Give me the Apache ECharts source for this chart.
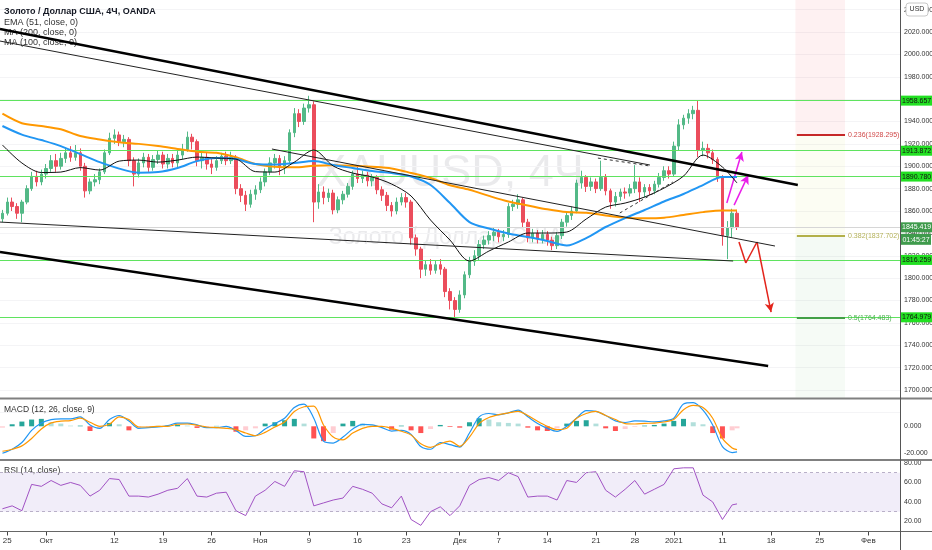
<!DOCTYPE html>
<html><head><meta charset="utf-8">
<script src="https://cdn.jsdelivr.net/npm/echarts@6/dist/echarts.min.js"></script>
<style>html,body{margin:0;padding:0;background:#fff}#c{width:932px;height:550px}</style>
</head><body><div id="c"></div><script>
// ---------- data ----------
const SLOTS = 185;          // half-trading-day slots across the time axis
const LAST = 151;           // last slot with a candle
// candles: [open, close, low, high], one per half trading day
const candles = [
[1853,1858,1850,1861],[1858,1868,1856,1872],[1868,1864,1860,1872],[1864,1858,1853,1867],[1858,1868,1850,1870],
[1868,1880,1866,1883],[1880,1891,1878,1895],[1891,1886,1882,1896],[1886,1893,1883,1897],[1893,1898,1889,1902],
[1898,1905,1895,1910],[1905,1900,1895,1911],[1900,1907,1897,1912],[1907,1912,1903,1916],[1912,1908,1904,1918],
[1908,1912,1905,1919],[1912,1900,1896,1916],[1900,1878,1872,1903],[1878,1886,1875,1889],[1886,1888,1882,1893],
[1888,1895,1884,1898],[1895,1912,1893,1915],[1912,1925,1910,1930],[1925,1928,1920,1933],[1928,1922,1918,1931],
[1922,1924,1917,1928],[1924,1905,1900,1926],[1905,1893,1882,1908],[1893,1903,1890,1907],[1903,1908,1899,1912],
[1908,1899,1895,1911],[1899,1906,1896,1910],[1906,1910,1902,1914],[1910,1902,1898,1913],[1902,1907,1898,1911],
[1907,1903,1899,1911],[1903,1910,1899,1914],[1910,1915,1906,1920],[1915,1926,1913,1931],[1926,1922,1915,1929],
[1922,1905,1900,1924],[1905,1908,1898,1913],[1908,1902,1897,1912],[1902,1899,1893,1907],[1899,1905,1896,1909],
[1905,1909,1902,1912],[1909,1905,1901,1913],[1905,1908,1902,1913],[1908,1880,1875,1910],[1880,1874,1868,1884],
[1874,1866,1860,1878],[1866,1875,1863,1879],[1875,1879,1870,1883],[1879,1886,1876,1890],[1886,1895,1882,1898],
[1895,1903,1892,1908],[1903,1907,1898,1911],[1907,1900,1892,1910],[1900,1905,1893,1909],[1905,1930,1903,1933],
[1930,1947,1926,1952],[1947,1940,1935,1951],[1940,1952,1937,1956],[1952,1955,1948,1963],[1955,1868,1850,1958],
[1868,1877,1862,1884],[1877,1872,1866,1882],[1872,1876,1868,1880],[1876,1861,1857,1879],[1861,1870,1858,1873],
[1870,1875,1866,1878],[1875,1882,1872,1885],[1882,1893,1879,1896],[1893,1889,1885,1900],[1889,1892,1885,1896],
[1892,1887,1882,1895],[1887,1890,1882,1893],[1890,1879,1875,1892],[1879,1874,1869,1882],[1874,1865,1860,1877],
[1865,1860,1855,1868],[1860,1868,1857,1872],[1868,1872,1865,1876],[1872,1868,1863,1876],[1868,1836,1830,1870],
[1836,1826,1820,1839],[1826,1808,1800,1828],[1808,1812,1802,1816],[1812,1807,1803,1817],[1807,1812,1804,1816],
[1812,1808,1803,1817],[1808,1788,1783,1810],[1788,1780,1772,1791],[1780,1772,1764,1783],[1772,1785,1769,1789],
[1785,1803,1782,1806],[1803,1815,1800,1819],[1815,1820,1811,1825],[1820,1830,1816,1834],[1830,1834,1826,1838],
[1834,1838,1830,1842],[1838,1841,1833,1845],[1841,1837,1832,1844],[1837,1839,1833,1843],[1839,1864,1836,1867],
[1864,1866,1860,1870],[1866,1870,1862,1875],[1870,1850,1845,1872],[1850,1836,1832,1853],[1836,1840,1832,1844],
[1840,1835,1831,1843],[1835,1839,1831,1843],[1839,1834,1829,1842],[1834,1829,1825,1837],[1829,1838,1826,1841],
[1838,1850,1835,1853],[1850,1856,1846,1860],[1856,1860,1852,1864],[1860,1885,1858,1888],[1885,1890,1880,1896],
[1890,1882,1877,1892],[1882,1886,1878,1890],[1886,1880,1876,1889],[1880,1890,1878,1905],[1890,1878,1874,1893],
[1878,1868,1862,1880],[1868,1873,1864,1877],[1873,1877,1869,1880],[1877,1876,1871,1881],[1876,1880,1873,1884],
[1880,1886,1876,1901],[1886,1877,1868,1890],[1877,1881,1872,1884],[1881,1878,1874,1884],[1878,1884,1875,1887],
[1884,1890,1881,1894],[1890,1896,1887,1900],[1896,1893,1889,1900],[1893,1918,1891,1922],[1918,1937,1914,1942],
[1937,1943,1933,1946],[1943,1947,1938,1951],[1947,1950,1942,1954],[1950,1914,1908,1959],[1914,1916,1909,1922],
[1916,1912,1907,1920],[1912,1906,1902,1915],[1906,1890,1886,1908],[1890,1838,1829,1892],[1838,1845,1817,1851],
[1845,1858,1836,1862],[1858,1845.419,1843,1861]
];
// date tick labels: [slot, text]
const xTicks = [[1,'25'],[9,'Окт'],[23,'12'],[33,'19'],[43,'26'],[53,'Ноя'],[63,'9'],[73,'16'],[83,'23'],
  [94,'Дек'],[102,'7'],[112,'14'],[122,'21'],[130,'28'],[138,'2021'],[148,'11'],[158,'18'],[168,'25'],[178,'Фев']];
// moving averages sampled every 4 slots (last value at the last candle)
const maStep = 4;
const maOrange = [1947,1938.5,1936,1933,1927,1924,1921.5,1920,1918,1915.5,1913,1912,1908,1902,1899.5,1899,1900.5,1901,1900.5,1899.5,1898,1894,1889.5,1883,1879,1873.5,1868.5,1865,1861.5,1859,1858.5,1856,1854,1853.5,1854,1856.5,1859,1860.5,1860.5];
const maBlue = [1936,1928.3,1923.4,1918,1910.9,1903.7,1897.9,1894.3,1894.8,1898.4,1904.6,1907.3,1906.4,1902,1901.5,1902.9,1904.6,1901.1,1898.4,1895.7,1893.9,1890.8,1883.2,1867.1,1850.1,1844.3,1839.8,1836.7,1833.2,1829.1,1835.8,1845.7,1853.7,1860.9,1868.5,1875.2,1883.2,1890.4,1890.4];
const emaBlack = [1919,1902.9,1894.4,1894.8,1898.8,1896.6,1904.6,1905.5,1903.7,1905.5,1908.2,1907.3,1906.4,1895.2,1894.8,1903.7,1914.5,1900.2,1893.9,1890.4,1884.1,1873.4,1851.9,1834,1815.3,1824.2,1832.3,1840.3,1840.3,1841.2,1852.8,1863.5,1867.1,1872.5,1880.5,1891.2,1910,1899.3,1885];
// indicators sampled every 2 slots
const indStep = 2;
const macdLine = [-20,-17,-12,-3,2.5,5,5.5,5.5,7,1,-1.5,5,8,4,-1.5,-1,-0.5,0.5,2.4,2.4,1,-1,-1,0,-3,-7.5,-7,-2,2,6,14,16.5,6,-11,-12.4,-8,-2,1.5,1,-1,-3.5,-3,-6,-15,-17,-12,-13.6,-15.4,-5,7,9.5,8.5,10,12,7,2,-1.5,-3.7,0,6,11.6,11,8,4,2.8,4,3.8,3.3,4,6,16.5,17.5,12,1,-15,-19.5,-19];
const macdSignal = [-18.5,-17,-14.5,-9,-2,2.5,3.8,4.2,6,3,0,1.5,7,5,-0.5,-0.5,0,0,1.5,1.7,0.8,-0.5,-1,-1.5,-2.5,-5,-7,-4.5,-0.5,3.2,11,14.5,15,1,-8,-10,-5,-1.5,0,0,-1.5,-3.7,-6.5,-13,-15.6,-13,-11,-14.8,-8,2,6.5,8.6,9.9,11.1,8,3.7,0,-2.5,-1.5,6,9.5,11.1,8,5,2,1.7,2.2,2.4,3.2,5,12.3,15.5,14,6,-9,-16,-17.3];
const macdHist = [-1,1.5,3.5,5,5.5,3,2,0.5,0.5,-3.5,-1.5,2.5,1.5,-3,-1,-0.5,0.3,0.5,1,0.5,-1.2,-0.5,0.3,0.2,-4,-3,-1.5,2,3,4.5,5.5,2,-9,-11,-5,2,4,2,0.5,-0.5,-2.5,0.5,-3,-5,-2,1,-0.5,-1,3,6,5,3,2.5,2,-1,-3,-3.5,-1.5,2,4,4.5,2,-1.5,-3.5,-2,-0.5,0.5,1,2,4,5.5,3,1.5,-5,-9,-3,-1.5];
const rsi = [33,36,31,58,56,62,57,60,57,46,52,64,63,46,46,45,48,52,54,64,46,45,49,50,31,26,46,52,61,56,72,71,36,39,42,44,56,53,49,38,34,46,22,16,30,35,26,36,57,63,65,62,70,66,45,46,46,42,62,60,70,71,52,45,53,62,48,53,58,74,75,75,47,40,22,37,38];
// horizontal levels and annotations (slot, price)
const greenLevels = [1958.657, 1913.872, 1890.780, 1816.259, 1764.979];
const lastPrice = 1845.419;
const countdown = '01:45:27';
const fibLevels = [['0.236', 1928.295], ['0.382', 1837.702], ['0.5', 1764.483]];
const fibSpan = [163.3, 173.2];
const fibZones = [[2048.6, 1928.295], [1928.295, 1837.702], [1837.702, 1764.483], [1764.483, 1692.9]];
const trendThick = [[[-0.5, 2022.6], [163.5, 1883.2]], [[-0.5, 1823.3], [157.4, 1721.4]]];
const trendThin = [[[-0.5, 2011.9], [133.1, 1901.1]], [[55.4, 1915.4], [158.8, 1828.7]], [[-0.5, 1850.1], [150.2, 1815.3]]];
const trendDashed = [[[122.4, 1907.3], [133.1, 1900.2]], [[126.9, 1858.2], [137.8, 1885.9]]];
const upArrows = [[[148.9, 1867.1], [152.0, 1912.7]], [[150.4, 1865.3], [153.3, 1892.1]]];
const downPath = [[151.4, 1832.3], [152.8, 1813.5], [155.1, 1832.3], [158.0, 1769.7]];

// ---------- chart ----------
const SANS = "'Liberation Sans',Arial,sans-serif";
const cats = Array.from({length: SLOTS}, (_, i) => String(i));
const tickMap = new Map(xTicks);
const stepData = (arr, step) => arr.map((v, i) => [Math.min(i * step, LAST), v]);
const GREEN_UP = '#53b987', RED_DN = '#eb4d5c';

const histData = macdHist.map((v, i) => {
  const prev = i > 0 ? macdHist[i - 1] : v;
  let c;
  if (v >= 0) c = v >= prev ? '#26a69a' : '#b2dfdb';
  else c = v < prev ? '#ff5252' : '#ffcdd2';
  return {value: [Math.min(i * indStep, LAST), v], itemStyle: {color: c}};
});

const lineSeries = (pts, color, width, type, z) => ({
  type: 'line', xAxisIndex: 1, yAxisIndex: 0, data: pts, symbol: 'none', silent: true,
  lineStyle: {color, width, type}, z: z || 4, animation: false
});

const fibColors = ['#c62828', '#b3b04a', '#43a047'];
const fibTextColors = ['#d04848', '#b5b25a', '#4caf50'];
const zoneColors = ['rgba(242,54,69,0.07)', 'rgba(205,220,57,0.06)', 'rgba(76,175,80,0.06)', 'rgba(76,175,80,0.05)'];
const boxLabel = (text, bg, fg) => ({show: true, position: 'end', distance: 1, formatter: text, color: fg,
  backgroundColor: bg, padding: [2, 1, 1, 1], fontSize: 7, fontFamily: SANS});

const series = [
  {
    type: 'candlestick', xAxisIndex: 0, yAxisIndex: 0, data: candles, barWidth: 3,
    itemStyle: {color: GREEN_UP, color0: RED_DN, borderColor: GREEN_UP, borderColor0: RED_DN, borderWidth: 1},
    markLine: {
      silent: true, symbol: ['none', 'none'], animation: false,
      data: greenLevels.map(v => ({
        yAxis: v, lineStyle: {color: '#5fe35f', width: 1, type: 'solid'},
        label: boxLabel(v.toFixed(3), '#22e022', '#111')
      })).concat([{
        yAxis: lastPrice, lineStyle: {color: '#d6d6d6', width: 1, type: 'solid'},
        label: boxLabel(lastPrice.toFixed(3), '#3f9b4c', '#fff')
      }])
    }
  },
  Object.assign(lineSeries(stepData(maOrange, maStep), '#ff9800', 2, 'solid', 5), {
    smooth: 0.3,
    markArea: {silent: true, animation: false,
      data: fibZones.map((z, k) => [{coord: [fibSpan[0] - 0.3, z[0]], itemStyle: {color: zoneColors[k]}}, {coord: [fibSpan[1], z[1]]}])},
    markLine: {silent: true, animation: false, symbol: ['none', 'none'],
      data: fibLevels.map(([r, v], k) => [
        {coord: [fibSpan[0], v], lineStyle: {color: fibColors[k], width: 2, type: 'solid'},
          label: {show: true, position: 'end', distance: 3, formatter: r + '(' + v.toFixed(3) + ')',
            color: fibTextColors[k], fontSize: 7, fontFamily: SANS, padding: [8, 0, 0, 0]}},
        {coord: [fibSpan[1], v]}])}
  }),
  Object.assign(lineSeries(stepData(maBlue, maStep), '#2196f3', 2, 'solid', 5), {
    smooth: 0.3,
    markLine: {silent: true, animation: false, symbolSize: [7, 9],
      data: upArrows.map(a => [
        {coord: a[0], symbol: 'none', lineStyle: {color: '#e91ee9', width: 1.5, type: 'solid'}, label: {show: false}},
        {coord: a[1], symbol: 'arrow'}]).concat(
        downPath.slice(1).map((p, k) => [
          {coord: downPath[k], symbol: 'none', lineStyle: {color: '#e3241b', width: 1.5, type: 'solid'}, label: {show: false}},
          {coord: p, symbol: k === downPath.length - 2 ? 'arrow' : 'none'}]))}
  }),
  Object.assign(lineSeries(stepData(emaBlack, maStep), '#111', 1, 'solid', 5), {smooth: 0.3}),
  ...trendThick.map(t => lineSeries(t, '#000', 2.5, 'solid', 6)),
  ...trendThin.map(t => lineSeries(t, '#222', 1, 'solid', 6)),
  ...trendDashed.map(t => lineSeries(t, '#333', 1, [3, 3], 6)),
  // MACD
  {type: 'bar', xAxisIndex: 2, yAxisIndex: 1, data: histData, barWidth: 5, silent: true, animation: false},
  {type: 'line', xAxisIndex: 2, yAxisIndex: 1, data: stepData(macdLine, indStep), symbol: 'none', smooth: 0.3,
    lineStyle: {color: '#2196f3', width: 1.2}, silent: true, animation: false},
  {type: 'line', xAxisIndex: 2, yAxisIndex: 1, data: stepData(macdSignal, indStep), symbol: 'none', smooth: 0.3,
    lineStyle: {color: '#ff9800', width: 1.2}, silent: true, animation: false},
  // RSI
  {type: 'line', xAxisIndex: 3, yAxisIndex: 2, data: stepData(rsi, indStep), symbol: 'none',
    lineStyle: {color: '#a152c4', width: 1}, silent: true, animation: false,
    markArea: {silent: true, data: [[{yAxis: 70, itemStyle: {color: 'rgba(149,117,205,0.13)'}}, {yAxis: 30}]]},
    markLine: {silent: true, symbol: ['none', 'none'], label: {show: false},
      lineStyle: {color: '#b9b0c8', type: [3, 3], width: 1}, data: [{yAxis: 70}, {yAxis: 30}]}}
];

const valX = (g) => ({gridIndex: g, type: 'value', min: -0.5, max: SLOTS - 0.5, show: false});
const yLab = {fontSize: 7, color: '#333', fontFamily: SANS, margin: 4};
const gridBase = {left: 0, right: 32, containLabel: false, outerBoundsMode: 'none'};

const option = {
  animation: false,
  backgroundColor: '#fff',
  grid: [
    Object.assign({top: -12.75, height: 425.125}, gridBase),
    Object.assign({top: 399.3, height: 81}, gridBase),
    Object.assign({top: 443.45, height: 97.5}, gridBase),
    Object.assign({top: 460, height: 71.5}, gridBase)
  ],
  xAxis: [
    {gridIndex: 0, type: 'category', data: cats, show: false, boundaryGap: true},
    valX(0), valX(1), valX(2),
    {gridIndex: 3, type: 'category', data: cats, boundaryGap: true,
      axisLine: {show: false},
      axisTick: {show: true, alignWithLabel: true, length: 4, interval: (i) => tickMap.has(i), lineStyle: {color: '#444'}},
      axisLabel: {interval: (i) => tickMap.has(i), formatter: (v) => tickMap.get(+v) || '',
        fontSize: 8, color: '#333', fontFamily: SANS, margin: 5},
      splitLine: {show: false}}
  ],
  yAxis: [
    {gridIndex: 0, type: 'value', position: 'right', min: 1680, max: 2060, interval: 20,
      axisLine: {show: false}, axisTick: {show: false},
      axisLabel: Object.assign({formatter: v => (v <= 1680 || v >= 2060) ? '' : v.toFixed(3)}, yLab),
      splitLine: {show: true, lineStyle: {color: '#f4f4f6'}}},
    {gridIndex: 1, type: 'value', position: 'right', min: -40, max: 20, interval: 20,
      axisLine: {show: false}, axisTick: {show: false}, splitLine: {show: false},
      axisLabel: Object.assign({formatter: v => (v === 0 || v === -20) ? v.toFixed(3) : ''}, yLab)},
    {gridIndex: 2, type: 'value', position: 'right', min: 0, max: 100, interval: 20,
      axisLine: {show: false}, axisTick: {show: false}, splitLine: {show: false},
      axisLabel: Object.assign({formatter: v => (v >= 20 && v <= 80) ? v.toFixed(2) : ''}, yLab)},
    {gridIndex: 3, type: 'value', show: false, min: 0, max: 1}
  ],
  series: series
};

const chart = echarts.init(document.getElementById('c'));
chart.setOption(option);

const yLast = chart.convertToPixel({yAxisIndex: 0}, lastPrice);
const txt = (x, y, text, size, extra) => ({type: 'text', x, y, silent: true,
  style: Object.assign({text, fontSize: size, fontFamily: SANS, fill: '#333', verticalAlign: 'middle'}, extra || {})});
chart.setOption({graphic: [
  // watermark
  {type: 'text', x: 450, y: 174, z: -10, silent: true, style: {text: 'XAUUSD, 4Ч', fontSize: 45, fontFamily: SANS,
    fill: 'rgba(149,152,161,0.2)', align: 'center', verticalAlign: 'middle'}},
  {type: 'text', x: 446, y: 238, z: -10, silent: true, style: {text: 'Золото / Доллар США', fontSize: 23, fontFamily: SANS,
    fill: 'rgba(149,152,161,0.2)', align: 'center', verticalAlign: 'middle'}},
  // legends
  txt(4, 12, 'Золото / Доллар США, 4Ч, OANDA', 9, {fontWeight: 'bold', fill: '#131722'}),
  txt(4, 23, 'EMA (51, close, 0)', 9),
  txt(4, 33, 'MA (200, close, 0)', 9),
  txt(4, 43, 'MA (100, close, 0)', 9),
  txt(4, 410, 'MACD (12, 26, close, 9)', 8.5),
  txt(4, 471, 'RSI (14, close)', 8.5),
  // separators and axis lines
  {type: 'line', silent: true, z: 50, shape: {x1: 0, y1: 398.5, x2: 932, y2: 398.5}, style: {stroke: '#808080', lineWidth: 2}},
  {type: 'line', silent: true, z: 50, shape: {x1: 0, y1: 460, x2: 932, y2: 460}, style: {stroke: '#808080', lineWidth: 2}},
  {type: 'line', silent: true, z: 50, shape: {x1: 0, y1: 531.5, x2: 932, y2: 531.5}, style: {stroke: '#666', lineWidth: 1}},
  {type: 'line', silent: true, z: 50, shape: {x1: 900.5, y1: 0, x2: 900.5, y2: 550}, style: {stroke: '#555', lineWidth: 1}},
  // USD badge
  {type: 'rect', z: 60, silent: true, shape: {x: 906, y: 3, width: 22, height: 13, r: 3}, style: {fill: '#fff', stroke: '#c8c8c8'}},
  {type: 'text', z: 61, silent: true, x: 917, y: 9.5, style: {text: 'USD', fontSize: 7, fontFamily: SANS, fill: '#333', align: 'center', verticalAlign: 'middle'}},
  // countdown box
  {type: 'rect', z: 60, silent: true, shape: {x: 901, y: yLast + 6.5, width: 30, height: 11}, style: {fill: '#3f9b4c'}},
  {type: 'text', z: 61, silent: true, x: 916, y: yLast + 12.3, style: {text: countdown, fontSize: 7, fontFamily: SANS, fill: '#fff', align: 'center', verticalAlign: 'middle'}}
]});
</script></body></html>
